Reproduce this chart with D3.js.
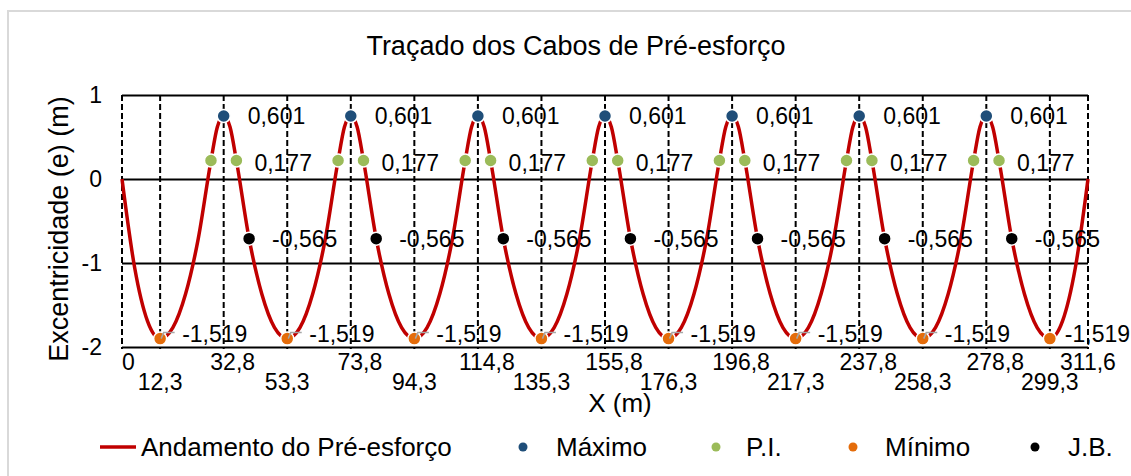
<!DOCTYPE html>
<meta charset="utf-8">
<style>
  body{margin:0;background:#fff;}
  text{font-family:"Liberation Sans",Arial,sans-serif;fill:#000;}
</style>
<body>
<script src="https://cdn.jsdelivr.net/npm/d3@7"></script>
<script>
  // x positions (m)
  var supportX = [32.8, 73.8, 114.8, 155.8, 196.8, 237.8, 278.8];
  var minX = [12.3, 53.3, 94.3, 135.3, 176.3, 217.3, 258.3, 299.3];
  var piX = [28.7, 36.9, 69.7, 77.9, 110.7, 118.9, 151.7, 159.9, 192.7, 200.9, 233.7, 241.9, 274.7, 282.9];
  var jbX = [41.0, 82.0, 123.0, 164.0, 205.0, 246.0, 287.0];
  var xTicksTop = [0, 32.8, 73.8, 114.8, 155.8, 196.8, 237.8, 278.8, 311.6];
  var xTicksBottom = [12.3, 53.3, 94.3, 135.3, 176.3, 217.3, 258.3, 299.3];
  var yTicks = [-2, -1, 0, 1];

  // plotted eccentricities (m) and the values written in the labels
  var eMax = 0.75, ePI = 0.22, eJB = -0.71, eMin = -1.90;
  var labMax = 0.601, labPI = 0.177, labJB = -0.565, labMin = -1.519;

  // cable profile around each support (offset from support, e)
  var profileDx = [-16.4, -12.3, -8.2, -4.1, -2.05, 0, 2.05, 4.1, 8.2, 12.3, 16.4, 20.5];
  var profileE = [-1.77, -1.37, -0.71, 0.22, 0.62, 0.75, 0.62, 0.22, -0.71, -1.37, -1.77, -1.90];
  var startX = [0, 4.1, 8.2, 12.3], startE = [0, -1.06, -1.69, -1.90];
  var endX = [303.4, 307.5, 311.6], endE = [-1.69, -1.06, 0];

  var W = 1131, H = 476;
  var svg = d3.select("body").append("svg").attr("width", W).attr("height", H);
  svg.append("rect").attr("width", W).attr("height", H).attr("fill", "#fff");
  svg.append("rect").attr("x", 8).attr("y", 11).attr("width", 1140).attr("height", 480)
     .attr("fill", "none").attr("stroke", "#d9d9d9").attr("stroke-width", 2);

  var x = d3.scaleLinear().domain([0, 311.6]).range([122, 1088]);
  var y = d3.scaleLinear().domain([-2, 1]).range([347, 95]);
  var fmt = function(v){ return String(v).replace(".", ","); };
  var fmt3 = function(v){ return v.toFixed(3).replace(".", ","); };

  // gridlines + y labels
  var ya = svg.append("g").attr("transform", "translate(122,0)")
     .call(d3.axisLeft(y).tickValues(yTicks).tickSize(-966).tickPadding(20).tickFormat(d => String(d)));
  ya.select(".domain").remove();
  ya.selectAll("line").attr("stroke", "#000").attr("stroke-width", 1.8);
  ya.selectAll("text").attr("font-size", 23).attr("font-family", "Liberation Sans, Arial, sans-serif");

  // dashed verticals
  var allTicks = xTicksTop.concat(xTicksBottom);
  svg.append("g").selectAll("line").data(allTicks).join("line")
     .attr("x1", d => x(d)).attr("x2", d => x(d))
     .attr("y1", y(1)).attr("y2", y(-2) + 2)
     .attr("stroke", "#000").attr("stroke-width", 2).attr("stroke-dasharray", "6,3");

  // x labels
  svg.append("g").selectAll("text").data(xTicksTop).join("text")
     .attr("x", (d, i) => i == 0 ? x(d) : (i == xTicksTop.length - 1 ? x(d) : x(d) + 9))
     .attr("y", 370).attr("font-size", 23)
     .attr("text-anchor", (d, i) => i == 0 ? "start" : "middle")
     .text(fmt);
  svg.append("g").selectAll("text").data(xTicksBottom).join("text")
     .attr("x", d => x(d)).attr("y", 390).attr("font-size", 23)
     .attr("text-anchor", "middle").text(fmt);

  // cable curve
  var pts = startX.map((d, i) => [d, startE[i]]);
  supportX.forEach(function(s){
    profileDx.forEach(function(dx, i){ pts.push([s + dx, profileE[i]]); });
  });
  endX.forEach((d, i) => pts.push([d, endE[i]]));
  var line = d3.line().x(d => x(d[0])).y(d => y(d[1])).curve(d3.curveMonotoneX);
  svg.append("path").attr("d", line(pts)).attr("fill", "none")
     .attr("stroke", "#c00000").attr("stroke-width", 3.5);

  // markers
  function dots(xs, e, col){
    svg.append("g").selectAll("circle").data(xs).join("circle")
       .attr("cx", d => x(d)).attr("cy", y(e)).attr("r", 6.5)
       .attr("fill", col).attr("stroke", "#fff").attr("stroke-width", 1.5);
  }
  dots(supportX, eMax, "#1f4e79");
  dots(piX, ePI, "#9bbb59");
  dots(minX, eMin, "#e46c0a");
  dots(jbX, eJB, "#000");

  // leader lines for minimum labels
  svg.append("g").selectAll("path").data(minX.slice(0, minX.length - 1)).join("path")
     .attr("d", d => "M" + (x(d) + 1) + "," + y(eMin) + "L" + (x(d) + 3.5) + "," + (y(eMin) - 6) + "L" + (x(d) + 14.5) + "," + (y(eMin) - 6))
     .attr("fill", "none").attr("stroke", "#a6a6a6").attr("stroke-width", 1.5);

  // data labels
  function labels(xs, e, dxs, dy, txt){
    svg.append("g").selectAll("text").data(xs).join("text")
       .attr("x", (d, i) => x(d) + (typeof dxs == "function" ? dxs(i) : dxs))
       .attr("y", y(e) + dy).attr("dy", "0.35em").attr("font-size", 23)
       .text(txt);
  }
  labels(supportX, eMax, 24, 0, fmt3(labMax));
  labels(piX.filter((d, i) => i % 2 == 1), ePI, 18, 2, fmt3(labPI));
  labels(jbX, eJB, 23, 0, fmt3(labJB));
  labels(minX, eMin, i => i == minX.length - 1 ? 15 : 22, -5, fmt3(labMin));

  // titles
  svg.append("text").attr("x", 576).attr("y", 55).attr("text-anchor", "middle")
     .attr("font-size", 27).text("Traçado dos Cabos de Pré-esforço");
  svg.append("text").attr("x", 620).attr("y", 412).attr("text-anchor", "middle")
     .attr("font-size", 26).text("X (m)");
  svg.append("text").attr("transform", "translate(59,229) rotate(-90)").attr("dy", "0.35em")
     .attr("text-anchor", "middle").attr("font-size", 27).text("Excentricidade (e) (m)");

  // legend
  var lg = svg.append("g");
  lg.append("line").attr("x1", 100).attr("x2", 136).attr("y1", 447).attr("y2", 447)
    .attr("stroke", "#c00000").attr("stroke-width", 3.5);
  lg.append("text").attr("x", 141).attr("y", 456).attr("font-size", 26).text("Andamento do Pré-esforço");
  var legItems = [["Máximo", "#1f4e79", 523, 556], ["P.I.", "#9bbb59", 716, 746],
                  ["Mínimo", "#e46c0a", 853, 885], ["J.B.", "#000", 1035, 1068]];
  legItems.forEach(function(it){
    lg.append("circle").attr("cx", it[2]).attr("cy", 447).attr("r", 4.5).attr("fill", it[1]);
    lg.append("text").attr("x", it[3]).attr("y", 456).attr("font-size", 26).text(it[0]);
  });
</script>
</body>
</html>
